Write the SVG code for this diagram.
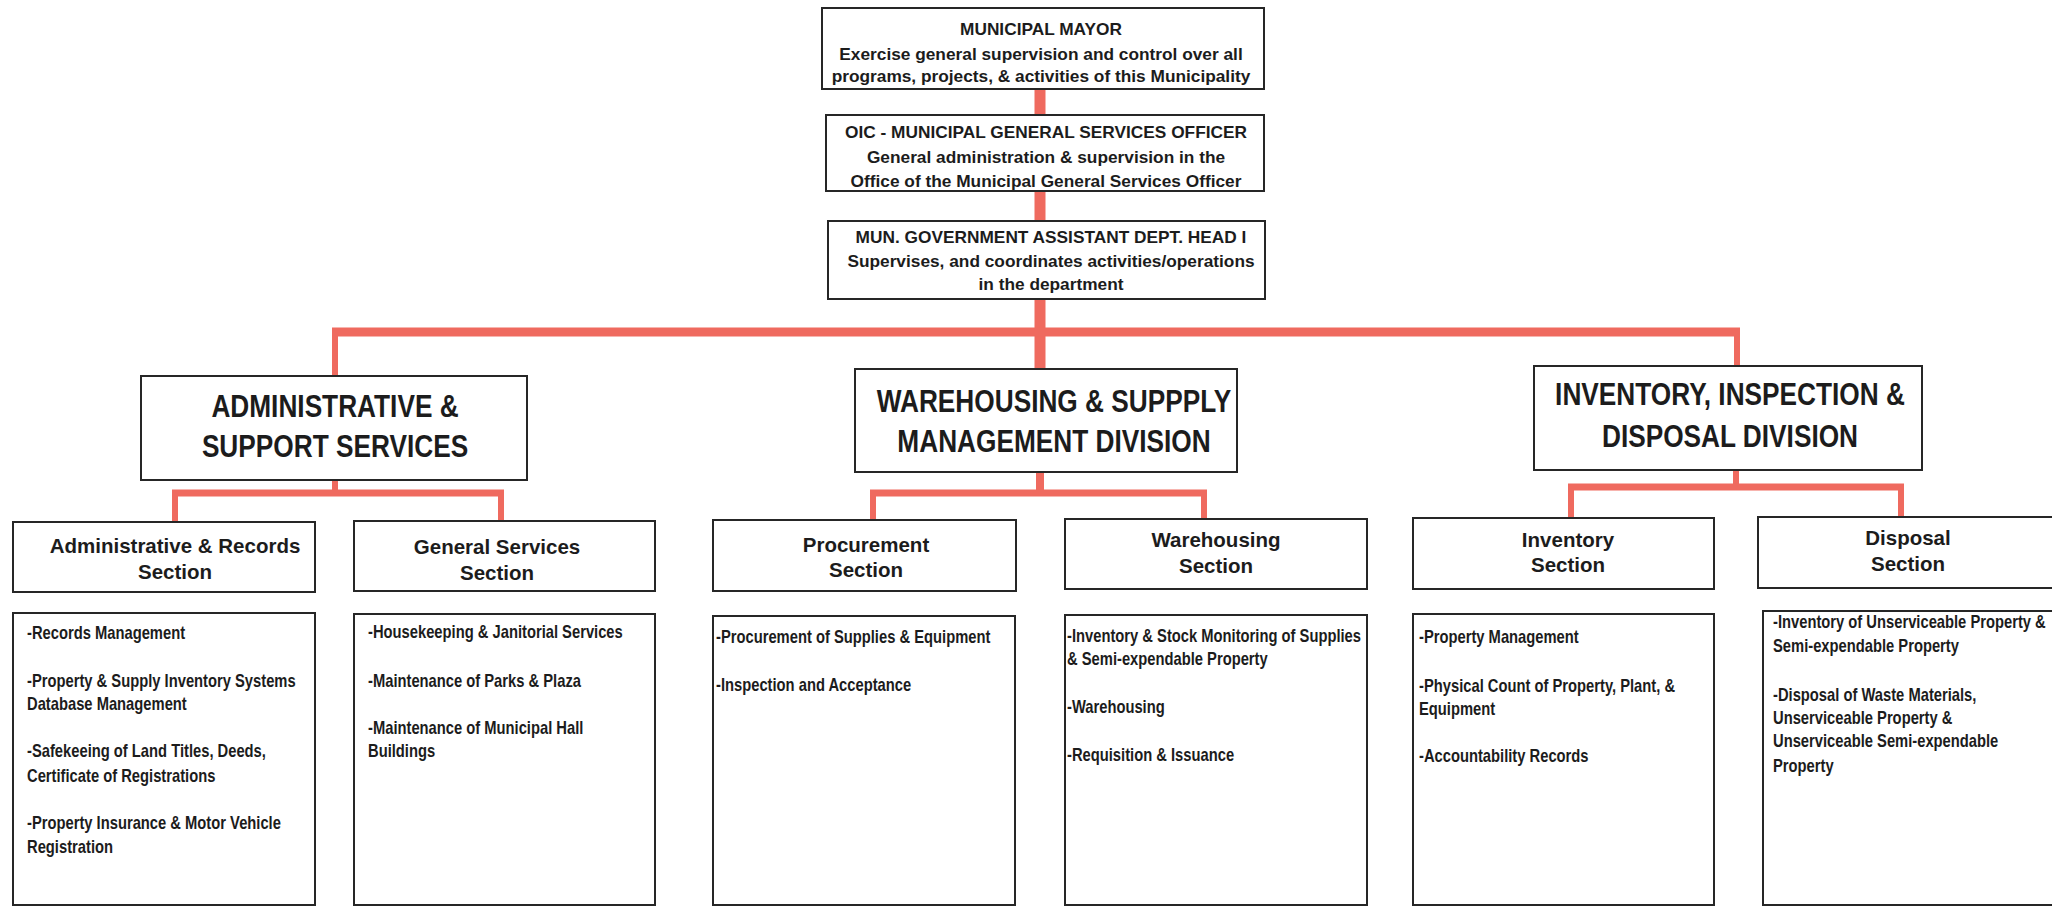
<svg xmlns="http://www.w3.org/2000/svg" width="2052" height="907" viewBox="0 0 2052 907">
<style>
.bx{fill:#fff;stroke:#262626;stroke-width:2}
.c{stroke:#ef6a5f;fill:none;stroke-linecap:butt}
.top{font-family:"Liberation Sans",Arial,sans-serif;font-weight:bold;font-size:17.3px;fill:#1c1c1c;text-anchor:middle}
.div{font-family:"Liberation Sans",Arial,sans-serif;font-weight:bold;font-size:32px;fill:#1c1c1c;text-anchor:middle}
.sec{font-family:"Liberation Sans",Arial,sans-serif;font-weight:bold;font-size:20.5px;fill:#1c1c1c;text-anchor:middle}
.d{font-family:"Liberation Sans",Arial,sans-serif;font-weight:bold;font-size:18px;fill:#1c1c1c}
</style>
<rect width="2052" height="907" fill="#fff"/>
<g id="connectors">
<line class="c" x1="1040" y1="89" x2="1040" y2="369" stroke-width="11"/>
<line class="c" x1="332" y1="332" x2="1740" y2="332" stroke-width="9"/>
<line class="c" x1="335" y1="332" x2="335" y2="376" stroke-width="6"/>
<line class="c" x1="1737" y1="332" x2="1737" y2="366" stroke-width="6"/>
<line class="c" x1="335" y1="480" x2="335" y2="493" stroke-width="6"/>
<line class="c" x1="172" y1="493" x2="504" y2="493" stroke-width="7"/>
<line class="c" x1="175" y1="493" x2="175" y2="522" stroke-width="6"/>
<line class="c" x1="501" y1="493" x2="501" y2="521" stroke-width="6"/>
<line class="c" x1="1040" y1="472" x2="1040" y2="493" stroke-width="8"/>
<line class="c" x1="870" y1="493" x2="1207" y2="493" stroke-width="7"/>
<line class="c" x1="873" y1="493" x2="873" y2="520" stroke-width="6"/>
<line class="c" x1="1204" y1="493" x2="1204" y2="519" stroke-width="6"/>
<line class="c" x1="1736" y1="470" x2="1736" y2="487" stroke-width="6"/>
<line class="c" x1="1568" y1="487" x2="1904" y2="487" stroke-width="7"/>
<line class="c" x1="1571" y1="487" x2="1571" y2="518" stroke-width="6"/>
<line class="c" x1="1901" y1="487" x2="1901" y2="517" stroke-width="6"/>
</g>
<g id="mayor">
<rect class="bx" x="822" y="8" width="442" height="81"/>
<text class="top" x="1041" y="35">MUNICIPAL MAYOR</text>
<text class="top" x="1041" y="60">Exercise general supervision and control over all</text>
<text class="top" x="1041" y="82">programs, projects, &amp; activities of this Municipality</text>
</g>
<g id="oic">
<rect class="bx" x="826" y="115" width="438" height="76"/>
<text class="top" x="1046" y="138">OIC - MUNICIPAL GENERAL SERVICES OFFICER</text>
<text class="top" x="1046" y="163">General administration &amp; supervision in the</text>
<text class="top" x="1046" y="187">Office of the Municipal General Services Officer</text>
</g>
<g id="assistant">
<rect class="bx" x="828" y="221" width="437" height="78"/>
<text class="top" x="1051" y="243">MUN. GOVERNMENT ASSISTANT DEPT. HEAD I</text>
<text class="top" x="1051" y="267">Supervises, and coordinates activities/operations</text>
<text class="top" x="1051" y="290">in the department</text>
</g>
<g id="div-admin">
<rect class="bx" x="141" y="376" width="386" height="104"/>
<text class="div" transform="translate(335,417) scale(0.82,1)">ADMINISTRATIVE &amp;</text>
<text class="div" transform="translate(335,457) scale(0.82,1)">SUPPORT SERVICES</text>
</g>
<g id="div-warehousing">
<rect class="bx" x="855" y="369" width="382" height="103"/>
<text class="div" transform="translate(1054,412) scale(0.82,1)">WAREHOUSING &amp; SUPPPLY</text>
<text class="div" transform="translate(1054,452) scale(0.82,1)">MANAGEMENT DIVISION</text>
</g>
<g id="div-inventory">
<rect class="bx" x="1534" y="366" width="388" height="104"/>
<text class="div" transform="translate(1730,405) scale(0.82,1)">INVENTORY, INSPECTION &amp;</text>
<text class="div" transform="translate(1730,447) scale(0.82,1)">DISPOSAL DIVISION</text>
</g>
<g id="sec-admin-records">
<rect class="bx" x="13" y="522" width="302" height="70"/>
<text class="sec" x="175" y="553">Administrative &amp; Records</text>
<text class="sec" x="175" y="579">Section</text>
</g>
<g id="sec-general">
<rect class="bx" x="354" y="521" width="301" height="70"/>
<text class="sec" x="497" y="554">General Services</text>
<text class="sec" x="497" y="580">Section</text>
</g>
<g id="sec-procurement">
<rect class="bx" x="713" y="520" width="303" height="71"/>
<text class="sec" x="866" y="552">Procurement</text>
<text class="sec" x="866" y="577">Section</text>
</g>
<g id="sec-warehousing">
<rect class="bx" x="1065" y="519" width="302" height="70"/>
<text class="sec" x="1216" y="547">Warehousing</text>
<text class="sec" x="1216" y="573">Section</text>
</g>
<g id="sec-inventory">
<rect class="bx" x="1413" y="518" width="301" height="71"/>
<text class="sec" x="1568" y="547">Inventory</text>
<text class="sec" x="1568" y="572">Section</text>
</g>
<g id="sec-disposal">
<rect class="bx" x="1758" y="517" width="320" height="71"/>
<text class="sec" x="1908" y="545">Disposal</text>
<text class="sec" x="1908" y="571">Section</text>
</g>
<g id="desc-admin-records">
<rect class="bx" x="13" y="613" width="302" height="292"/>
<text class="d" transform="translate(27,639) scale(0.82,1)">-Records Management</text>
<text class="d" transform="translate(27,687) scale(0.82,1)">-Property &amp; Supply Inventory Systems</text>
<text class="d" transform="translate(27,710) scale(0.82,1)">Database Management</text>
<text class="d" transform="translate(27,757) scale(0.82,1)">-Safekeeing of Land Titles, Deeds,</text>
<text class="d" transform="translate(27,782) scale(0.82,1)">Certificate of Registrations</text>
<text class="d" transform="translate(27,829) scale(0.82,1)">-Property Insurance &amp; Motor Vehicle</text>
<text class="d" transform="translate(27,853) scale(0.82,1)">Registration</text>
</g>
<g id="desc-general">
<rect class="bx" x="354" y="614" width="301" height="291"/>
<text class="d" transform="translate(368,638) scale(0.82,1)">-Housekeeping &amp; Janitorial Services</text>
<text class="d" transform="translate(368,687) scale(0.82,1)">-Maintenance of Parks &amp; Plaza</text>
<text class="d" transform="translate(368,734) scale(0.82,1)">-Maintenance of Municipal Hall</text>
<text class="d" transform="translate(368,757) scale(0.82,1)">Buildings</text>
</g>
<g id="desc-procurement">
<rect class="bx" x="713" y="616" width="302" height="289"/>
<text class="d" transform="translate(716,643) scale(0.82,1)">-Procurement of Supplies &amp; Equipment</text>
<text class="d" transform="translate(716,691) scale(0.82,1)">-Inspection and Acceptance</text>
</g>
<g id="desc-warehousing">
<rect class="bx" x="1065" y="615" width="302" height="290"/>
<text class="d" transform="translate(1067,642) scale(0.82,1)">-Inventory &amp; Stock Monitoring of Supplies</text>
<text class="d" transform="translate(1067,665) scale(0.82,1)">&amp; Semi-expendable Property</text>
<text class="d" transform="translate(1067,713) scale(0.82,1)">-Warehousing</text>
<text class="d" transform="translate(1067,761) scale(0.82,1)">-Requisition &amp; Issuance</text>
</g>
<g id="desc-inventory">
<rect class="bx" x="1413" y="614" width="301" height="291"/>
<text class="d" transform="translate(1419,643) scale(0.82,1)">-Property Management</text>
<text class="d" transform="translate(1419,692) scale(0.82,1)">-Physical Count of Property, Plant, &amp;</text>
<text class="d" transform="translate(1419,715) scale(0.82,1)">Equipment</text>
<text class="d" transform="translate(1419,762) scale(0.82,1)">-Accountability Records</text>
</g>
<g id="desc-disposal">
<rect class="bx" x="1763" y="611" width="320" height="294"/>
<text class="d" transform="translate(1773,628) scale(0.82,1)">-Inventory of Unserviceable Property &amp;</text>
<text class="d" transform="translate(1773,652) scale(0.82,1)">Semi-expendable Property</text>
<text class="d" transform="translate(1773,701) scale(0.82,1)">-Disposal of Waste Materials,</text>
<text class="d" transform="translate(1773,724) scale(0.82,1)">Unserviceable Property &amp;</text>
<text class="d" transform="translate(1773,747) scale(0.82,1)">Unserviceable Semi-expendable</text>
<text class="d" transform="translate(1773,772) scale(0.82,1)">Property</text>
</g>
</svg>
